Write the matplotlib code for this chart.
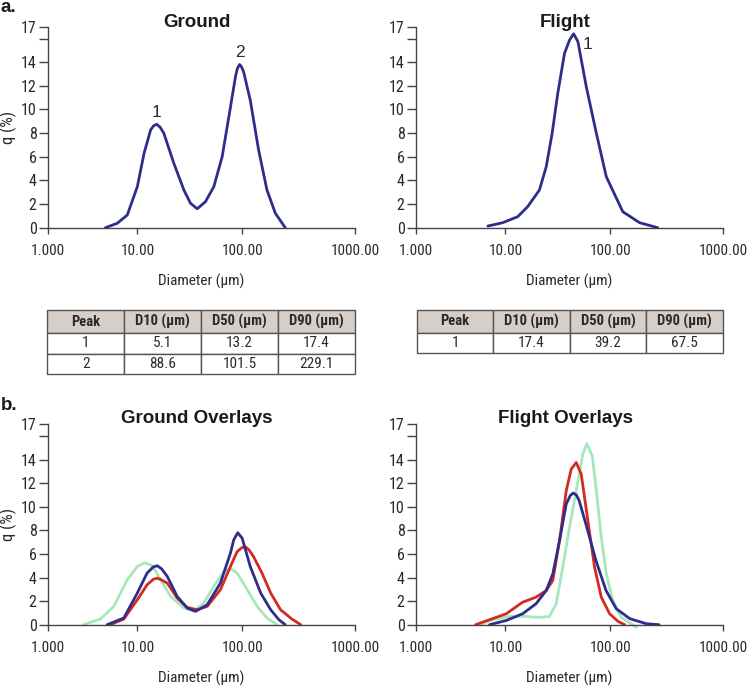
import matplotlib
matplotlib.use("Agg")
import matplotlib.pyplot as plt
import numpy as np
from matplotlib import font_manager

# Particle size distributions (diameter in um, q in %)
ground_d = [4.4, 5.96, 7.72, 10, 11.6, 13.4, 14.3, 15.3, 16.5, 17.9, 22.3, 27.8,
            32.2, 37.3, 44.7, 53.7, 64.5, 77.4, 86.5, 90, 94.4, 98, 103, 118, 140,
            166, 197, 241]
ground_q = [0, 0.37, 1.07, 3.47, 6.3, 8.27, 8.62, 8.75, 8.5, 7.99, 5.45, 3.19,
            2.06, 1.6, 2.2, 3.47, 6.0, 10.2, 12.8, 13.45, 13.8, 13.65, 13.2, 10.8,
            6.57, 3.19, 1.22, 0]

flight_d = [6.37, 9.3, 13.1, 16.3, 21.1, 24.5, 27.9, 31.6, 36.6, 40.9, 44.7,
            49.1, 59.0, 73.6, 91.6, 129, 182, 263]
flight_q = [0.14, 0.42, 0.93, 1.78, 3.19, 5.16, 7.99, 11.4, 14.75, 15.88, 16.4,
            15.74, 11.93, 7.99, 4.31, 1.35, 0.42, 0.0]

# overlays, ground
g_blue_d = [4.6, 7.07, 10, 12.4, 14.2, 15.5, 17.0, 19.3, 24.0, 29.9, 35.9, 46.4,
            62.1, 77.4, 83.2, 90.8, 100, 118, 146, 179, 212, 241]
g_blue_q = [0, 0.57, 2.69, 4.38, 4.9, 5.0, 4.75, 4.1, 2.4, 1.41, 1.13, 1.69,
            3.53, 6.08, 7.2, 7.8, 7.35, 4.94, 2.69, 1.27, 0.42, 0]
g_red_d = [5.0, 7.07, 10, 12.4, 14.2, 15.5, 17.0, 19.3, 24.0, 29.9, 37.2, 46.4,
           62.1, 77.4, 89.6, 100, 107, 115, 126, 150, 179, 219, 276, 331]
g_red_q = [0, 0.48, 2.12, 3.39, 3.85, 3.95, 3.8, 3.53, 2.26, 1.47, 1.27, 1.55,
           2.97, 4.94, 6.2, 6.55, 6.6, 6.35, 5.79, 4.38, 2.69, 1.27, 0.48, 0]
g_green_d = [2.51, 3.87, 5.46, 7.72, 10, 11.8, 13.9, 16.7, 20.8, 27.8, 34.6, 43.1,
             53.7, 66.9, 77.4, 89.6, 111, 136, 166, 204]
g_green_q = [0, 0.48, 1.55, 3.81, 4.94, 5.25, 5.0, 3.81, 2.4, 1.41, 1.19, 1.84,
             3.25, 4.52, 4.75, 4.38, 2.97, 1.55, 0.57, 0]

# overlays, flight
f_red_d = [4.65, 6.65, 10.2, 14.6, 19.6, 24.5, 28.3, 32.8, 38.0, 42.4, 47.3,
           52.8, 61.1, 70.8, 82, 98.4, 117, 134]
f_red_q = [0, 0.42, 0.93, 1.91, 2.34, 2.9, 3.75, 7.13, 11.36, 13.2, 13.76,
           12.78, 8.82, 4.87, 2.34, 0.93, 0.28, 0]
f_blue_d = [6.65, 10.2, 14.6, 19.6, 24.5, 28.3, 32.8, 38.0, 41.5, 44.3, 47.5,
            50.5, 58.5, 73, 91, 113, 149, 209, 270]
f_blue_q = [0, 0.36, 0.93, 1.78, 2.9, 4.31, 7.13, 10.24, 10.95, 11.17, 11.0,
            10.52, 8.54, 5.44, 2.9, 1.35, 0.51, 0.08, 0]
f_green_d = [5.15, 7.23, 10.9, 15.7, 21.1, 26.3, 30.5, 35.2, 40.8, 47.3, 54.7,
             59.7, 67.3, 73.6, 82, 91.6, 105, 125, 170]
f_green_q = [0, 0.42, 0.7, 0.7, 0.62, 0.7, 1.78, 4.87, 8.26, 11.36, 14.47,
             15.36, 14.32, 11.36, 7.41, 4.31, 2.06, 0.62, -0.22]

table_cols = ["Peak", "D10 (\u00b5m)", "D50 (\u00b5m)", "D90 (\u00b5m)"]
ground_rows = [["1", "5.1", "13.2", "17.4"], ["2", "88.6", "101.5", "229.1"]]
flight_rows = [["1", "17.4", "39.2", "67.5"]]

x_ticks = [1, 10, 100, 1000]
x_ticklabels = ["1.000", "10.00", "100.00", "1000.00"]
y_ticks = [0, 2, 4, 6, 8, 10, 12, 14, 16, 17]
y_ticklabels = ["0", "2", "4", "6", "8", "10", "12", "14", "", "17"]

BLUE = "#2e2d8c"
RED = "#d6291f"
GREEN = "#a6e8bb"
INK = "#2a2a2a"

# the reference uses a narrow sans; use one if it is around, else shrink
installed = {f.name for f in font_manager.fontManager.ttflist}
narrow = None
for name in ["Liberation Sans Narrow", "Arial Narrow", "Roboto Condensed",
             "Open Sans Condensed"]:
    if name in installed:
        narrow = name
        break
if narrow:
    plt.rcParams["font.family"] = [narrow, "DejaVu Sans"]
    TICK_FS, LAB_FS, CELL_FS = 11, 11, 10.5
else:
    plt.rcParams["font.family"] = ["Liberation Sans", "DejaVu Sans"]
    TICK_FS, LAB_FS, CELL_FS = 9, 10, 9.5

# the instrument software spaces its decades unevenly, mimic that
LOG_KNOTS = [-1, 0, 1, 2, 3, 4]
POS_KNOTS = [-1, 0, 0.875, 1.898, 3.0, 4.0]


def fwd(x):
    return np.interp(np.log10(np.clip(x, 1e-6, None)), LOG_KNOTS, POS_KNOTS)


def inv(p):
    return 10 ** np.interp(p, POS_KNOTS, LOG_KNOTS)


W, H = 747, 687
fig = plt.figure(figsize=(W / 100, H / 100), dpi=100)


def px_axes(x0, x1, ytop, ybot):
    return fig.add_axes([x0 / W, 1 - ybot / H, (x1 - x0) / W, (ybot - ytop) / H])


def style(ax):
    ax.set_xscale("function", functions=(fwd, inv))
    ax.set_xlim(1, 1000)
    ax.set_ylim(0, 17)
    for s in ["top", "right"]:
        ax.spines[s].set_visible(False)
    for s in ["left", "bottom"]:
        ax.spines[s].set_color("#444444")
        ax.spines[s].set_linewidth(1.0)
    ax.set_xticks(x_ticks)
    ax.set_xticklabels(x_ticklabels)
    ax.xaxis.set_minor_locator(plt.NullLocator())
    ax.set_yticks(y_ticks)
    ax.set_yticklabels(y_ticklabels)
    ax.tick_params(axis="x", direction="out", length=4, width=1, colors="#444444",
                   labelcolor=INK, labelsize=TICK_FS, pad=8)
    ax.tick_params(axis="y", direction="out", length=6.5, width=1, colors="#444444",
                   labelcolor=INK, labelsize=TICK_FS + 0.5, pad=1.5)
    ax.set_xlabel("Diameter (\u00b5m)", fontsize=LAB_FS, color=INK, labelpad=11)


def curve(ax, d, q, color):
    ax.plot(d, q, color=color, lw=2.0, solid_joinstyle="round",
            solid_capstyle="round", clip_on=False)


ax1 = px_axes(47.7, 355, 26.7, 227.7)
ax2 = px_axes(415.7, 723.3, 26.7, 227.7)
ax3 = px_axes(47.7, 355, 424.3, 624.7)
ax4 = px_axes(415.7, 723.3, 424.3, 624.7)

for ax in (ax1, ax2, ax3, ax4):
    style(ax)

curve(ax1, ground_d, ground_q, BLUE)
curve(ax2, flight_d, flight_q, BLUE)
curve(ax3, g_green_d, g_green_q, GREEN)
curve(ax3, g_red_d, g_red_q, RED)
curve(ax3, g_blue_d, g_blue_q, BLUE)
curve(ax4, f_green_d, f_green_q, GREEN)
curve(ax4, f_red_d, f_red_q, RED)
curve(ax4, f_blue_d, f_blue_q, BLUE)

ax1.set_ylabel("q (%)", fontsize=LAB_FS + 1, color=INK, labelpad=3)
ax3.set_ylabel("q (%)", fontsize=LAB_FS + 1, color=INK, labelpad=3)

# peak numbers
nkw = dict(va="bottom", fontsize=12.5, color=INK, family="Liberation Sans")
ax1.text(15.3, 9.1, "1", ha="center", **nkw)
ax1.text(94.4, 14.2, "2", ha="center", **nkw)
ax2.text(54, 14.9, "1", ha="left", **nkw)

tkw = dict(ha="center", va="baseline", fontsize=13.5, fontweight="bold",
           color="#1a1a1a", family="Liberation Sans")
fig.text(196.7 / W, 1 - 26.7 / H, "Ground", **tkw)
fig.text(564.7 / W, 1 - 26.7 / H, "Flight", **tkw)
fig.text(196.7 / W, 1 - 423.3 / H, "Ground Overlays", **tkw)
fig.text(565 / W, 1 - 423.3 / H, "Flight Overlays", **tkw)

fig.text(0.5 / W, 1 - 12 / H, "a.", ha="left", va="baseline", fontsize=13.5,
         fontweight="bold", color="#1a1a1a", family="Liberation Sans")
fig.text(0.5 / W, 1 - 410 / H, "b.", ha="left", va="baseline", fontsize=13.5,
         fontweight="bold", color="#1a1a1a", family="Liberation Sans")


def draw_table(x0, x1, ytop, ybot, rows):
    tax = px_axes(x0, x1, ytop, ybot)
    tax.axis("off")
    tb = tax.table(cellText=rows, colLabels=table_cols, cellLoc="center",
                   bbox=[0, 0, 1, 1])
    tb.auto_set_font_size(False)
    for (r, c), cell in tb.get_celld().items():
        cell.set_edgecolor("#555555")
        cell.set_linewidth(1.0)
        if r == 0:
            cell.set_height(23)
            cell.set_facecolor("#d6cec9")
            cell.get_text().set_fontweight("bold")
            cell.get_text().set_fontsize(CELL_FS)
        else:
            cell.set_height(20.5)
            cell.get_text().set_fontsize(CELL_FS + 0.5)
        cell.get_text().set_color(INK)
    return tb


draw_table(47.3, 355, 310, 374, ground_rows)
draw_table(417, 722.5, 310, 353.3, flight_rows)

fig.savefig("out.png", dpi=100)
